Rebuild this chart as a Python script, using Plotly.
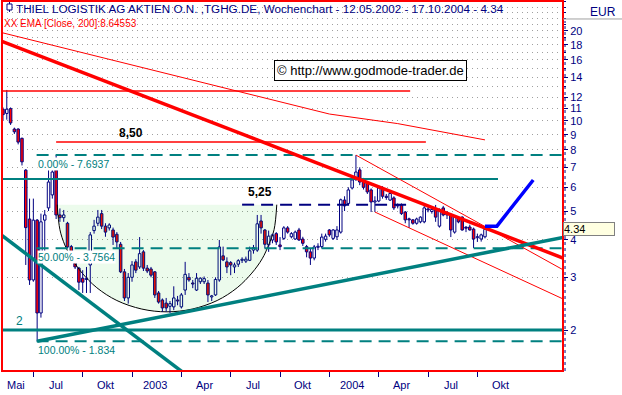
import numpy as np
import pandas as pd
import plotly.graph_objects as go

# ---------------- data ----------------
first_week = "2002-05-12"
n_weeks = 128
weeks = pd.date_range(first_week, periods=n_weeks, freq="7D")

opens = [10.95, 10.6, 11.0, 9.4, 9.4, 8.75, 6.85, 4.7, 2.94, 4.66, 2.28, 4.66, 5.12, 5.66, 6.86, 4.85,
         4.75, 4.55, 3.8, 3.38, 3.22, 2.98, 2.95, 3.3, 4.3, 4.55, 4.9, 4.45, 4.39, 4.32, 4.18, 3.87,
         3.13, 2.56, 3.0, 3.38, 3.25, 3.65, 3.22, 3.2, 3.13, 2.66, 2.52, 2.46, 2.4, 2.39, 2.52, 2.39,
         2.72, 3.0, 2.87, 2.72, 2.9, 2.9, 2.87, 2.58, 2.62, 2.94, 3.54, 3.38, 3.36, 3.25, 3.32, 3.42,
         3.4, 3.42, 3.7, 3.7, 4.63, 4.32, 3.85, 4.0, 4.2, 3.85, 4.05, 4.39, 4.1, 4.03, 4.32, 4.03,
         3.8, 3.65, 3.48, 3.78, 3.8, 4.02, 4.32, 4.05, 4.1, 4.25, 5.44, 5.3, 5.97, 6.45, 6.86, 6.35,
         6.2, 5.88, 5.36, 5.4, 5.97, 5.6, 5.44, 5.53, 5.2, 5.24, 4.96, 4.7, 4.67, 4.55, 4.6, 4.6,
         5.08, 4.98, 5.04, 4.45, 5.12, 4.85, 4.85, 4.25, 4.72, 4.77, 4.39, 4.42, 4.35, 4.07, 4.03, 4.1]
highs = [11.1, 12.7, 11.1, 9.5, 9.45, 8.8, 6.9, 5.5, 5.5, 4.7, 4.9, 5.04, 6.86, 7.0, 7.69, 5.1,
         5.04, 4.6, 3.85, 3.45, 3.25, 3.17, 3.25, 4.25, 4.67, 5.04, 5.04, 4.55, 4.55, 4.4, 4.25, 3.94,
         3.2, 3.1, 3.4, 3.45, 4.09, 3.7, 3.3, 3.25, 3.15, 2.7, 2.55, 2.56, 2.5, 2.8, 2.6, 2.66,
         3.38, 3.1, 2.94, 3.1, 3.0, 3.02, 2.94, 2.62, 3.0, 4.0, 3.8, 3.5, 3.4, 3.36, 3.45, 3.5,
         3.52, 3.8, 3.85, 4.85, 4.85, 4.35, 4.3, 4.2, 4.25, 4.09, 4.45, 4.45, 4.25, 4.3, 4.39, 4.1,
         3.85, 3.75, 3.85, 3.9, 4.2, 4.2, 4.35, 4.35, 4.45, 5.5, 5.6, 6.0, 6.5, 7.69, 7.0, 6.45,
         6.3, 5.95, 5.6, 6.1, 6.05, 5.7, 5.8, 5.6, 5.3, 5.3, 5.0, 4.75, 4.7, 4.75, 4.8, 5.2,
         5.15, 5.1, 5.24, 5.1, 5.2, 5.0, 4.9, 4.8, 4.8, 4.8, 4.45, 4.5, 4.4, 4.2, 4.2, 4.45]
lows = [10.0, 10.1, 9.7, 9.05, 8.35, 7.1, 3.3, 2.83, 2.9, 1.834, 2.2, 3.6, 5.0, 5.5, 4.7, 4.6,
        4.6, 3.75, 3.4, 3.2, 2.72, 2.66, 2.66, 2.66, 4.2, 4.45, 4.35, 4.1, 4.3, 3.85, 3.75, 3.1,
        2.5, 2.45, 2.9, 3.1, 3.2, 3.15, 3.1, 3.0, 2.56, 2.45, 2.3, 2.3, 2.28, 2.33, 2.42, 2.36,
        2.62, 2.9, 2.76, 2.7, 2.85, 2.85, 2.48, 2.5, 2.6, 2.9, 3.4, 3.1, 3.05, 3.1, 3.25, 3.35,
        3.35, 3.4, 3.6, 3.65, 4.2, 3.75, 3.65, 3.9, 3.85, 3.7, 4.0, 4.2, 4.05, 4.0, 3.97, 3.82,
        3.5, 3.3, 3.42, 3.7, 3.75, 3.95, 4.1, 4.0, 4.0, 4.2, 5.0, 5.25, 5.9, 6.3, 6.1, 5.9,
        5.7, 4.96, 4.96, 5.35, 5.5, 5.45, 5.4, 5.04, 5.1, 4.85, 4.55, 4.39, 4.5, 4.5, 4.55, 4.55,
        4.95, 4.9, 4.6, 4.4, 4.8, 4.7, 4.09, 4.2, 4.55, 4.3, 4.25, 4.3, 3.76, 3.94, 3.95, 4.05]
closes = [10.5, 10.95, 9.85, 9.2, 8.5, 7.3, 4.4, 2.94, 4.66, 2.28, 4.6, 4.85, 6.25, 6.75, 4.85, 4.75,
          4.85, 3.79, 3.45, 3.25, 2.89, 2.89, 2.96, 4.16, 4.45, 4.77, 4.45, 4.25, 4.49, 4.09, 3.94, 3.13,
          2.56, 3.0, 3.3, 3.17, 3.6, 3.22, 3.15, 3.05, 2.62, 2.48, 2.37, 2.37, 2.45, 2.56, 2.5, 2.62,
          3.07, 2.94, 2.85, 2.98, 2.98, 2.97, 2.62, 2.6, 2.95, 3.79, 3.43, 3.25, 3.3, 3.3, 3.41, 3.44,
          3.45, 3.68, 3.77, 4.53, 4.39, 3.87, 4.12, 4.16, 3.94, 3.8, 4.39, 4.25, 4.2, 4.25, 4.0, 3.9,
          3.65, 3.48, 3.79, 3.8, 4.09, 4.12, 4.16, 4.32, 4.32, 5.45, 5.2, 5.88, 6.35, 6.75, 6.25, 6.0,
          5.79, 5.36, 5.4, 5.97, 5.6, 5.55, 5.72, 5.12, 5.24, 4.9, 4.67, 4.67, 4.55, 4.7, 4.77, 5.12,
          5.04, 5.06, 4.77, 5.0, 4.85, 4.86, 4.32, 4.77, 4.6, 4.32, 4.38, 4.32, 4.03, 4.09, 4.16, 4.34]

# EMA 200 (close)
ema_dates = ["2002-05-12", "2003-03-09", "2004-01-04", "2004-05-09", "2004-10-17"]
ema_vals = [19.7, 14.4, 10.55, 9.8, 8.64553]

# trend lines (date, price) pairs
red_trend_dates = ["2002-05-10", "2005-03-10"]
red_trend_vals = [18.46, 3.48]
chan_up_dates = ["2004-02-22", "2005-03-10"]
chan_up_vals = [7.69, 3.18]
chan_lo_dates = ["2004-03-28", "2005-03-10"]
chan_lo_vals = [4.96, 2.54]
teal_fall_dates = ["2002-05-10", "2003-04-13"]
teal_fall_vals = [4.14, 1.425]
teal_rise_dates = ["2002-07-14", "2005-03-10"]
teal_rise_vals = [1.834, 4.08]
proj_dates = ["2004-10-17", "2004-11-08", "2005-01-14"]
proj_vals = [4.45, 4.45, 6.35]

# horizontal levels: (start, end, value)
red_lvl_top = ("2002-05-01", "2004-06-01", 12.6)
red_lvl_850 = ("2002-08-18", "2004-06-30", 8.50)
teal_lvl_640 = ("2002-05-01", "2004-11-10", 6.40)
teal_lvl_2 = ("2002-05-01", "2005-03-20", 2.0)
navy_lvl_525 = ("2003-07-27", "2004-06-04", 5.25)
fib_start, fib_end = "2002-07-13", "2005-03-20"
fib_vals = [7.6937, 3.7564, 1.834]
fib_texts = ["0.00% - 7.6937", "50.00% - 3.7564", "100.00% - 1.834"]

# cup formation outline
cup_dates = ["2002-08-20", "2002-08-25", "2002-09-03", "2002-09-16", "2002-10-05", "2002-11-01",
             "2002-12-08", "2003-01-23", "2003-03-10", "2003-04-26", "2003-06-11", "2003-07-18",
             "2003-08-14", "2003-09-02", "2003-09-14", "2003-09-24", "2003-09-29"]
cup_vals = [5.25, 4.33, 3.85, 3.46, 3.10, 2.77, 2.51, 2.35, 2.30, 2.35, 2.51, 2.77,
            3.10, 3.46, 3.85, 4.33, 5.25]

# axis ticks
quarter_ticks = ["2002-07-07", "2002-10-06", "2003-01-05", "2003-04-06", "2003-07-06",
                 "2003-10-05", "2004-01-04", "2004-04-04", "2004-07-04", "2004-10-03"]
quarter_labels = ["Mai", "Jul", "Okt", "2003", "Apr", "Jul", "Okt", "2004", "Apr", "Jul", "Okt"]
y_ticks = [2, 3, 4, 5, 6, 7, 8, 9, 10, 11, 12, 14, 16, 18, 20]
y_minor = [13, 15, 17, 19, 21, 22, 23, 24, 25]
last_price = 4.34

# ---------------- styling ----------------
NAVY = "#000080"
TEAL = "#008080"
RED = "#FF0000"
FONT = "Liberation Sans, Arial, sans-serif"
x_range = ["2002-05-10 04:00", "2005-03-09 22:00"]
y_range = [np.log10(1.4585), np.log10(25.19)]
DAY_MS = 86400000

fig = go.Figure()

# ---- candle bodies (bars) ----
body_lo = [min(o, c) for o, c in zip(opens, closes)]
body_hi = [max(o, c) for o, c in zip(opens, closes)]
body_h = [max(h - l, 0.008 * l) for h, l in zip(body_hi, body_lo)]
body_col = [RED if c < o else "white" for o, c in zip(opens, closes)]
fig.add_trace(go.Bar(x=weeks, y=body_h, base=body_lo, width=4.6 * DAY_MS,
                     marker=dict(color=body_col, line=dict(color=NAVY, width=1)),
                     hoverinfo="skip"))

# cup fill + arc (translucent so the candles stay visible)
fig.add_trace(go.Scatter(x=cup_dates, y=cup_vals, mode="lines", fill="toself",
                         fillcolor="rgba(0,200,0,0.075)",
                         line=dict(color="black", width=1, shape="spline"),
                         hoverinfo="skip"))

# ---- wicks ----
wx, wy = [], []
for d, h, l, bh, bl in zip(weeks, highs, lows, body_hi, body_lo):
    wx += [d, d, None, d, d, None]
    wy += [h, bh, None, bl, l, None]
fig.add_trace(go.Scatter(x=wx, y=wy, mode="lines", line=dict(color=NAVY, width=1),
                         hoverinfo="skip", connectgaps=False))


def hline(spec, color, width, dash="solid"):
    s, e, v = spec
    fig.add_trace(go.Scatter(x=[s, e], y=[v, v], mode="lines",
                             line=dict(color=color, width=width, dash=dash), hoverinfo="skip"))


hline(red_lvl_top, RED, 1.5)
hline(red_lvl_850, RED, 1.5)
hline(teal_lvl_640, TEAL, 2)
hline(teal_lvl_2, TEAL, 3)
for v in fib_vals:
    hline((fib_start, fib_end, v), TEAL, 2, "12px,7px")
hline(navy_lvl_525, NAVY, 2, "12px,7px")


def tline(xs, ys, color, width):
    fig.add_trace(go.Scatter(x=xs, y=ys, mode="lines", line=dict(color=color, width=width),
                             hoverinfo="skip"))


tline(ema_dates, ema_vals, RED, 1)
tline(red_trend_dates, red_trend_vals, RED, 3.5)
tline(chan_up_dates, chan_up_vals, RED, 1)
tline(chan_lo_dates, chan_lo_vals, RED, 1)
tline(teal_fall_dates, teal_fall_vals, TEAL, 3.5)
tline(teal_rise_dates, teal_rise_vals, TEAL, 3.5)
tline(proj_dates, proj_vals, "#0000FF", 3.5)

# ---------------- annotations ----------------
ann = []
ann.append(dict(xref="paper", yref="paper", x=0.022, y=0.981, xanchor="left", yanchor="middle",
                text="THIEL LOGISTIK AG AKTIEN O.N. ,TGHG.DE, Wochenchart - 12.05.2002 - 17.10.2004 - 4.34",
                showarrow=False, font=dict(family=FONT, size=11.7, color=NAVY)))
ann.append(dict(xref="paper", yref="paper", x=0.0, y=0.939, xanchor="left", yanchor="middle",
                text="XX EMA [Close, 200]:8.64553", showarrow=False,
                font=dict(family=FONT, size=10, color=RED)))
ann.append(dict(xref="paper", yref="paper", x=0.656, y=0.8135, xanchor="center", yanchor="middle",
                text="© http://www.godmode-trader.de", showarrow=False, bgcolor="white",
                bordercolor="black", borderwidth=1, borderpad=2,
                font=dict(family=FONT, size=13, color="black")))
ann.append(dict(xref="paper", yref="paper", x=1.0713, y=0.970, xanchor="center", yanchor="middle",
                text="EUR", showarrow=False, font=dict(family=FONT, size=12, color=NAVY)))
ann.append(dict(xref="paper", yref="y", x=1.0, y=np.log10(last_price), xanchor="left",
                yanchor="middle", text=f"{last_price:.2f}", showarrow=False, align="left",
                width=50, bgcolor="#FFFFE1", bordercolor="#808080", borderwidth=1, borderpad=0,
                font=dict(family=FONT, size=11, color="black")))
for v, t in zip(fib_vals, fib_texts):
    ann.append(dict(xref="x", yref="y", x=fib_start, y=np.log10(v), xanchor="left",
                    yanchor="top", yshift=-2, text=t, showarrow=False, bgcolor="white",
                    borderpad=0, font=dict(family=FONT, size=10.5, color=TEAL)))
ann.append(dict(xref="x", yref="y", x="2002-06-12", y=np.log10(2.0), yshift=9, text="2",
                showarrow=False, font=dict(family=FONT, size=12, color=TEAL)))
ann.append(dict(xref="x", yref="y", x="2003-01-04", y=np.log10(8.5), yshift=9, text="<b>8,50</b>",
                showarrow=False, font=dict(family=FONT, size=12, color="black")))
ann.append(dict(xref="x", yref="y", x="2003-08-29", y=np.log10(5.25), yshift=13, text="<b>5,25</b>",
                showarrow=False, font=dict(family=FONT, size=12, color="black")))

# quarter labels centred in their periods
tk = pd.to_datetime(quarter_ticks)
edges = [pd.Timestamp(x_range[0])] + list(tk) + [tk[-1] + (tk[-1] - tk[-2])]
for i, lab in enumerate(quarter_labels):
    mid = edges[i] + (edges[i + 1] - edges[i]) / 2
    ann.append(dict(xref="x", yref="paper", x=mid, y=0, yanchor="top", yshift=-6, xshift=-2,
                    text=lab, showarrow=False, font=dict(family=FONT, size=11, color=NAVY)))

shapes = [
    dict(type="rect", xref="paper", yref="paper", x0=0, x1=1, y0=0, y1=1,
         line=dict(color=RED, width=2), layer="above"),
    dict(type="line", xref="paper", yref="paper", x0=1.0036, x1=1.0036, y0=0, y1=0.946,
         line=dict(color=NAVY, width=1, dash="dot")),
    dict(type="line", xref="paper", yref="paper", x0=1.0, x1=1.11, y0=0.9514, y1=0.9514,
         line=dict(color="#A0A0A0", width=1)),
    dict(type="rect", xref="paper", yref="paper", x0=0.0089, x1=0.0178, y0=0.9757, y1=0.9919,
         line=dict(color=NAVY, width=1), fillcolor="white", layer="above"),
    dict(type="line", xref="paper", yref="paper", x0=0.0134, x1=0.0134, y0=0.9919, y1=0.9973,
         line=dict(color=NAVY, width=1), layer="above"),
    dict(type="line", xref="paper", yref="paper", x0=0.0134, x1=0.0134, y0=0.9703, y1=0.9757,
         line=dict(color=NAVY, width=1), layer="above"),
]

fig.update_layout(
    width=622, height=395, margin=dict(l=2, r=59, t=1, b=24),
    paper_bgcolor="white", plot_bgcolor="white", showlegend=False,
    barmode="overlay", annotations=ann, shapes=shapes,
    xaxis=dict(type="date", range=x_range,
               tickvals=quarter_ticks, showticklabels=False, ticks="outside", ticklen=5,
               tickcolor=NAVY, showgrid=False, zeroline=False, showline=False),
    yaxis=dict(type="log", range=y_range, side="right", tickvals=y_ticks,
               ticktext=[str(v) for v in y_ticks], ticks="outside", ticklen=4, tickcolor=NAVY,
               tickfont=dict(family=FONT, size=11, color=NAVY),
               showgrid=True, gridcolor="#A0A0A0", gridwidth=1, griddash="1px,4px",
               minor=dict(tickmode="array", tickvals=y_minor, showgrid=True, gridcolor="#A0A0A0",
                          griddash="1px,4px", ticks="outside", ticklen=2, tickcolor=NAVY),
               zeroline=False, showline=False),
)

fig.write_html("out.html", config={"displayModeBar": False},
               post_script="document.body.style.margin='0px';")
